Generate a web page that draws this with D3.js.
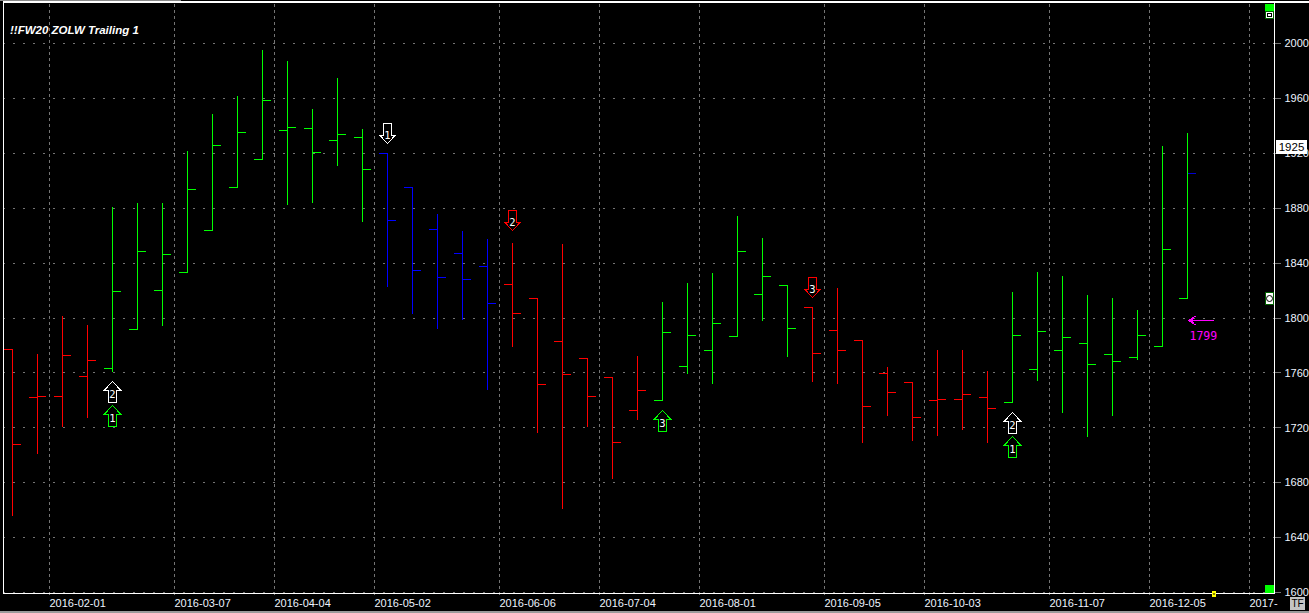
<!DOCTYPE html>
<html><head><meta charset="utf-8">
<script src="https://cdn.jsdelivr.net/npm/d3@7"></script>
<style>
html,body{margin:0;padding:0;background:#000;overflow:hidden}
svg{display:block}
text{font-family:"Liberation Sans",Arial,sans-serif}
</style></head><body>
<script>
const title = "!!FW20 ZOLW Trailing 1";
const weeks = ["2016-01-18","2016-01-25","2016-02-01","2016-02-08","2016-02-15","2016-02-22","2016-02-29","2016-03-07","2016-03-14","2016-03-21","2016-03-28","2016-04-04","2016-04-11","2016-04-18","2016-04-25","2016-05-02","2016-05-09","2016-05-16","2016-05-23","2016-05-30","2016-06-06","2016-06-13","2016-06-20","2016-06-27","2016-07-04","2016-07-11","2016-07-18","2016-07-25","2016-08-01","2016-08-08","2016-08-15","2016-08-22","2016-08-29","2016-09-05","2016-09-12","2016-09-19","2016-09-26","2016-10-03","2016-10-10","2016-10-17","2016-10-24","2016-10-31","2016-11-07","2016-11-14","2016-11-21","2016-11-28","2016-12-05","2016-12-12","2016-12-19","2016-12-26","2017-01-02"];
const open  = [1777.0,1742.0,1742.7,1757.3,1763.1,1791.5,1820.0,1832.8,1863.7,1895.0,1915.5,1936.6,1938.0,1929.3,1931.5,1919.8,1895.0,1864.4,1846.9,1837.5,1824.3,1814.1,1782.8,1770.4,1756.6,1732.5,1739.8,1764.6,1776.2,1786.4,1817.1,1823.6,1807.6,1790.8,1783.5,1759.5,1752.9,1739.8,1740.5,1742.0,1738.3,1762.4,1776.2,1781.3,1773.3,1771.1,1779.2,1814.1];
const high  = [1777.0,1773.5,1801.2,1794.7,1880.5,1883.6,1883.6,1921.5,1948.3,1961.4,1994.9,1986.9,1951.9,1974.7,1937.5,1919.8,1895.0,1875.4,1863.0,1857.1,1854.2,1814.1,1853.5,1770.4,1756.6,1772.1,1811.2,1825.1,1832.4,1873.9,1858.1,1823.6,1807.6,1821.4,1783.5,1763.8,1752.9,1776.2,1776.2,1760.9,1818.5,1833.1,1830.2,1816.3,1814.1,1805.4,1924.9,1934.4];
const low   = [1656.2,1701.6,1721.1,1727.6,1761.2,1791.5,1794.7,1832.8,1863.7,1895.0,1915.5,1882.4,1884.5,1910.8,1870.0,1823.3,1803.4,1792.0,1798.8,1747.8,1778.9,1716.9,1661.5,1721.3,1682.7,1725.7,1739.8,1759.9,1752.6,1786.4,1798.5,1772.3,1753.4,1752.6,1709.6,1729.3,1710.4,1714.7,1718.4,1709.6,1738.3,1754.8,1731.5,1713.3,1728.6,1769.7,1779.2,1814.1];
const close = [1707.7,1742.7,1772.6,1769.0,1819.2,1848.4,1846.2,1893.6,1925.7,1935.1,1958.5,1938.8,1920.6,1933.7,1908.2,1871.0,1834.5,1829.4,1828.0,1810.5,1803.2,1751.5,1758.7,1742.7,1709.2,1747.1,1789.4,1787.2,1795.9,1848.4,1830.2,1792.3,1774.1,1776.2,1735.4,1745.6,1727.4,1740.5,1744.2,1734.0,1787.2,1790.1,1785.7,1766.0,1768.2,1787.2,1849.9,1905.2];
const trend = ["r","r","r","r","g","g","g","g","g","g","g","g","g","g","g","b","b","b","b","b","r","r","r","r","r","r","g","g","g","g","g","g","r","r","r","r","r","r","r","r","g","g","g","g","g","g","g","g"];
const trendColors = {r:"#ff0000",g:"#00ff00",b:"#0000ff"};
const priceTicks = [1600,1640,1680,1720,1760,1800,1840,1880,1920,1960,2000];
const dateTicks = ["2016-02-01","2016-03-07","2016-04-04","2016-05-02","2016-06-06","2016-07-04","2016-08-01","2016-09-05","2016-10-03","2016-11-07","2016-12-05","2017-01-02"];
const dateTickLabels = ["2016-02-01","2016-03-07","2016-04-04","2016-05-02","2016-06-06","2016-07-04","2016-08-01","2016-09-05","2016-10-03","2016-11-07","2016-12-05","2017-"];
const signalBars   = [4,4,15,20,26,32,40,40];
const signalPrices = [1753.9,1736.4,1926.8,1864.1,1732.5,1814.6,1731.1,1713.6];
const signalDirs   = ["up","up","down","down","up","down","up","up"];
const signalColors = ["#ffffff","#00ff00","#ffffff","#ff0000","#00ff00","#ff0000","#ffffff","#00ff00"];
const signalLabels = ["2","1","1","2","3","3","2","1"];
const lastPrice = 1925;
const targetPrice = 1798;
const targetLabel = "1799";

const W = 1309, H = 613;
const svg = d3.select("body").append("svg").attr("width",W).attr("height",H).style("background","#000");
const x = d3.scaleBand().domain(weeks).range([0,1275]);
const y = d3.scaleLinear().domain([1600,2000]).range([592.5,43.5]);
const cx = w => x(w)+x.bandwidth()/2;
const gridColor = "#747474", txt = "#eef4ff";

// grid
const grid = svg.append("g").attr("shape-rendering","crispEdges");
grid.selectAll(".h").data(priceTicks).join("line").attr("x1",3).attr("x2",1274)
  .attr("y1",d=>Math.floor(y(d))+.5).attr("y2",d=>Math.floor(y(d))+.5)
  .attr("stroke",gridColor).attr("stroke-dasharray","2 8");
grid.selectAll(".v").data(dateTicks).join("line").attr("y1",4).attr("y2",598)
  .attr("x1",d=>x(d)-.5).attr("x2",d=>x(d)-.5)
  .attr("stroke",gridColor).attr("stroke-dasharray","3 3");

// frame and window chrome
const frame = svg.append("g").attr("shape-rendering","crispEdges");
frame.append("rect").attr("x",0).attr("y",0).attr("width",181).attr("height",1).attr("fill","#8a8a8a");
frame.append("rect").attr("x",3).attr("y",1).attr("width",W-3).attr("height",2).attr("fill","#fff");
frame.append("line").attr("x1",3.5).attr("x2",3.5).attr("y1",3).attr("y2",593).attr("stroke","#fff");
frame.append("line").attr("x1",3).attr("x2",1275).attr("y1",593.5).attr("y2",593.5).attr("stroke","#fff");
frame.append("line").attr("x1",1274.5).attr("x2",1274.5).attr("y1",3).attr("y2",594).attr("stroke","#fff");
frame.append("rect").attr("x",0).attr("y",611).attr("width",W).attr("height",2).attr("fill","#9a9a9a");

// OHLC bars
const bars = svg.append("g").attr("shape-rendering","crispEdges");
const idx = d3.range(open.length);
const col = i => trendColors[trend[i]];
const py = v => Math.floor(y(v))+.5;
bars.selectAll(".hl").data(idx).join("line").attr("x1",i=>cx(weeks[i])).attr("x2",i=>cx(weeks[i]))
  .attr("y1",i=>py(high[i])-.5).attr("y2",i=>py(low[i])+.5).attr("stroke",col);
bars.selectAll(".o").data(idx).join("line").attr("x1",i=>Math.max(4,cx(weeks[i])-8.5)).attr("x2",i=>cx(weeks[i]))
  .attr("y1",i=>py(open[i])).attr("y2",i=>py(open[i])).attr("stroke",col);
bars.selectAll(".c").data(idx).join("line").attr("x1",i=>cx(weeks[i])).attr("x2",i=>cx(weeks[i])+8.5)
  .attr("y1",i=>py(close[i])).attr("y2",i=>py(close[i]))
  .attr("stroke",i=>i===idx.length-1?"#0000d0":col(i));

// signals
const arrowShape = d3.line();
const sig = svg.append("g");
signalBars.forEach((b,k)=>{
  const s = signalDirs[k]==="up"?1:-1;
  const pts = [[0,0],[8,8.5],[4,8.5],[4,20.5],[-4,20.5],[-4,8.5],[-8,8.5]].map(p=>[p[0],p[1]*s]);
  const g = sig.append("g").attr("transform",`translate(${cx(weeks[b])},${py(signalPrices[k])})`);
  g.append("path").attr("d",arrowShape(pts)+"Z").attr("fill","#000").attr("stroke",signalColors[k]).attr("stroke-width",1).attr("shape-rendering","crispEdges");
  g.append("text").attr("x",0).attr("y",s>0?16:-5).attr("text-anchor","middle")
    .attr("fill","#fff").style("font-family","'DejaVu Sans Mono',monospace").style("font-size","10.5px").text(signalLabels[k]);
});

// target arrow
const tx = cx(weeks[47]), ty = py(targetPrice);
const tg = svg.append("g").attr("stroke","#ff00ff").attr("fill","none").attr("shape-rendering","crispEdges");
tg.append("path").attr("d",d3.line()([[tx+1,ty],[tx+26,ty]]));
tg.append("path").attr("d",d3.line()([[tx+9,ty-5],[tx+1,ty],[tx+9,ty+5]]));
tg.append("path").attr("d",d3.line()([[tx+7,ty-3],[tx+3,ty],[tx+7,ty+3]]));
svg.append("text").attr("x",tx+2).attr("y",ty+19).attr("fill","#ff00ff")
  .style("font-family","'DejaVu Sans Mono',monospace").style("font-size","11.5px").text(targetLabel);

// axes
const yAxis = d3.axisRight(y).tickValues(priceTicks).tickSize(6).tickPadding(4).tickFormat(d3.format("d"));
const yg = svg.append("g").attr("transform","translate(1274.5,0)").call(yAxis);
yg.select(".domain").remove();
yg.selectAll("line").attr("stroke",gridColor).attr("shape-rendering","crispEdges").attr("transform","translate(0,-.5)");
yg.selectAll("text").attr("fill",txt).attr("dy",null).attr("y",3.2).style("font-size","11px");

const xAxis = d3.axisBottom(x).tickValues(dateTicks).tickSize(0).tickFormat((d,i)=>dateTickLabels[i]);
const xg = svg.append("g").attr("transform","translate(0,594)").call(xAxis);
xg.select(".domain").remove();
xg.selectAll(".tick").attr("transform",d=>`translate(${x(d)-.5},0)`);
xg.selectAll("text").attr("x",0).attr("y",13).attr("dy",0).attr("text-anchor","start").attr("fill",txt).style("font-size","11px");

// last price flag
svg.append("rect").attr("x",1276).attr("width",31).attr("height",14).attr("fill","#fff").attr("shape-rendering","crispEdges")
  .attr("y",Math.round(y(lastPrice))-6.5);
svg.append("text").attr("x",1291.5).attr("y",y(lastPrice)+4.5).attr("text-anchor","middle").attr("fill","#000").style("font-size","11.5px").text(lastPrice);

// title
svg.append("text").attr("x",10).attr("y",34).attr("fill","#fff").style("font-size","11.5px").style("font-weight","bold").style("font-style","italic").text(title);

// scrollbar widgets
const w = svg.append("g").attr("shape-rendering","crispEdges");
w.append("rect").attr("x",1265).attr("y",3.5).attr("width",9).attr("height",8).attr("fill","#00ff00");
w.append("rect").attr("x",1265.5).attr("y",11.5).attr("width",8).attr("height",7).attr("fill","#fff").attr("stroke","#006000");
w.append("rect").attr("x",1267.5).attr("y",13.5).attr("width",4).attr("height",3).attr("fill","#fff").attr("stroke","#000");
w.append("rect").attr("x",1265).attr("y",585).attr("width",9).attr("height",8).attr("fill","#00ff00");
w.append("rect").attr("x",1265.5).attr("y",292.5).attr("width",8).attr("height",12).attr("fill","#fff").attr("stroke","#006000");
w.append("circle").attr("cx",1269.5).attr("cy",298.5).attr("r",3).attr("fill","#fff").attr("stroke","#000").attr("shape-rendering","auto");
w.append("rect").attr("x",1212).attr("y",591).attr("width",4).attr("height",6).attr("fill","#ffff00");
w.append("rect").attr("x",1213).attr("y",593).attr("width",2).attr("height",2).attr("fill","#808000");
w.append("rect").attr("x",1290).attr("y",597).attr("width",15).attr("height",13).attr("fill","#c4c4c4");
svg.append("text").attr("x",1297.5).attr("y",607).attr("text-anchor","middle").attr("fill","#000").style("font-size","10px").text("TF");
</script>
</body></html>
